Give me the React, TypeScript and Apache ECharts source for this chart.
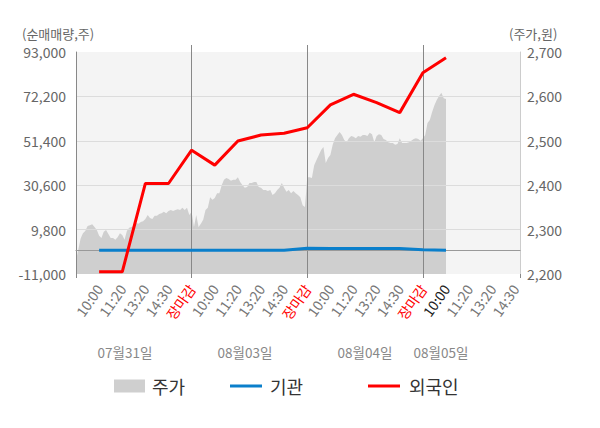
import React, { useEffect, useRef } from 'react';
import * as echarts from 'echarts';

// ---------- data ----------
const dayLabels = ['07월31일', '08월03일', '08월04일', '08월05일'];
const timeLabels = ['10:00', '11:20', '13:20', '14:30', '장마감'];

// 주가 (intraday price, right axis), 50 samples per full day
const priceDay1 = [
  2230, 2255, 2280, 2292, 2297, 2308, 2310, 2312, 2306, 2299,
  2286, 2281, 2295, 2299, 2290, 2281, 2281, 2277, 2283, 2292,
  2288, 2277, 2297, 2304, 2306, 2308, 2315, 2313, 2317, 2319,
  2324, 2333, 2326, 2324, 2331, 2331, 2335, 2337, 2340, 2337,
  2342, 2344, 2342, 2344, 2346, 2344, 2349, 2344, 2349, 2333,
];
const priceDay2 = [
  2340, 2306, 2333, 2306, 2313, 2322, 2344, 2349, 2373, 2367,
  2371, 2382, 2382, 2400, 2412, 2416, 2414, 2410, 2412, 2412,
  2418, 2407, 2400, 2394, 2396, 2405, 2405, 2407, 2407, 2396,
  2394, 2389, 2389, 2387, 2389, 2378, 2382, 2389, 2394, 2405,
  2394, 2385, 2389, 2382, 2387, 2382, 2378, 2373, 2355, 2351,
];
const priceDay3 = [
  2418, 2418, 2416, 2445, 2457, 2468, 2479, 2486, 2450, 2461,
  2468, 2491, 2506, 2513, 2520, 2513, 2502, 2497, 2506, 2511,
  2509, 2506, 2511, 2509, 2513, 2513, 2511, 2518, 2515, 2497,
  2511, 2515, 2513, 2504, 2502, 2497, 2495, 2495, 2491, 2493,
  2506, 2495, 2495, 2495, 2497, 2500, 2504, 2506, 2504, 2500,
];
const priceDay4 = [2506, 2513, 2540, 2547, 2565, 2580, 2592, 2601, 2608, 2596, 2594];

// 순매매량 at each time label (10:00, 11:20, 13:20, 14:30, 장마감 per day)
const foreignNet = [
  -10000, -10000, 31400, 31400, 47000,
  40000, 51300, 54100, 54900, 57500,
  68200, 73200, 69300, 64600, 83300,
  90300,
];
const institutionNet = [
  150, 150, 150, 150, 150,
  150, 150, 150, 150, 1100,
  900, 900, 900, 900, 350,
  100,
];

const leftMin = -11000;
const leftMax = 93000;
const leftStep = 20800;
const rightMin = 2200;
const rightMax = 2700;
const rightStep = 100;

// ---------- layout / style ----------
const FONT = '"Noto Sans CJK KR", "Noto Sans", sans-serif';
const SLOTS_PER_DAY = timeLabels.length;
const POINTS_PER_DAY = 50;
const X_MAX = 19.2;
const DATE_LABEL_X = [125, 245, 365, 441];
const GRID = { left: 76, right: 80, top: 52, bottom: 154 };

const priceDays = [priceDay1, priceDay2, priceDay3, priceDay4];
const priceData = priceDays.flatMap((arr, d) =>
  arr.map((v, i) => [d * SLOTS_PER_DAY + (i * SLOTS_PER_DAY) / POINTS_PER_DAY, v])
);
const foreignData = foreignNet.map((v, i) => [i + 1, v]);
const institutionData = institutionNet.map((v, i) => [i + 1, v]);
const currentSlot = foreignNet.length;

const fmt = (v: number) => v.toLocaleString('en-US');

const legendText = (pad: number) => ({
  fontSize: 18,
  color: '#333',
  fontFamily: FONT,
  padding: [0, 0, 0, pad],
});

export default function App() {
  const ref = useRef<HTMLDivElement>(null);
  useEffect(() => {
    document.body.style.margin = '0';
    const chart = echarts.init(ref.current!, null, { renderer: 'svg' });
    const option: any = {
      animation: false,
      textStyle: { fontFamily: FONT },
      grid: [
        { ...GRID, show: true, backgroundColor: '#f4f4f4', borderWidth: 0 },
        { left: GRID.left, right: GRID.right, top: 45, bottom: GRID.bottom, show: false },
      ],
      xAxis: [
        {
          type: 'value',
          gridIndex: 0,
          min: 0,
          max: X_MAX,
          interval: 1,
          z: 3,
          axisLine: { show: true, lineStyle: { color: '#888' } },
          axisTick: { show: false },
          splitLine: { show: false },
          axisLabel: {
            rotate: 55,
            margin: 12,
            fontSize: 14,
            color: '#777',
            fontFamily: FONT,
            formatter: (v: number) => {
              const k = Math.round(v);
              if (Math.abs(v - k) > 1e-6 || k <= 0) return '';
              const idx = (k - 1) % SLOTS_PER_DAY;
              const t = timeLabels[idx];
              if (idx === SLOTS_PER_DAY - 1) return `{red|${t}}`;
              if (k === currentSlot) return `{cur|${t}}`;
              return t;
            },
            rich: {
              red: { color: '#ff0000', fontSize: 14, fontFamily: FONT },
              cur: { color: '#222', fontSize: 14, fontFamily: FONT },
            },
          },
        },
        {
          type: 'value',
          gridIndex: 1,
          min: 0,
          max: X_MAX,
          interval: SLOTS_PER_DAY,
          z: 3,
          axisLine: { show: false },
          axisLabel: { show: false },
          axisTick: { show: true, length: 4, lineStyle: { color: '#888' } },
          splitLine: {
            show: true,
            showMinLine: false,
            showMaxLine: false,
            lineStyle: { color: '#888', width: 1 },
          },
        },
      ],
      yAxis: [
        {
          type: 'value',
          gridIndex: 0,
          position: 'left',
          min: leftMin,
          max: leftMax,
          interval: leftStep,
          z: 3,
          axisLine: { show: true, lineStyle: { color: '#888' } },
          axisTick: { show: false },
          splitLine: {
            show: true,
            showMinLine: false,
            showMaxLine: false,
            lineStyle: { color: '#dcdcdc' },
          },
          axisLabel: { margin: 10, fontSize: 14, color: '#666', fontFamily: FONT, formatter: fmt },
        },
        {
          type: 'value',
          gridIndex: 0,
          position: 'right',
          min: rightMin,
          max: rightMax,
          interval: rightStep,
          z: 3,
          axisLine: { show: true, lineStyle: { color: '#ccc' } },
          axisTick: { show: false },
          splitLine: { show: false },
          axisLabel: { margin: 7, fontSize: 14, color: '#666', fontFamily: FONT, formatter: fmt },
        },
        { type: 'value', gridIndex: 1, show: false, min: 0, max: 1 },
      ],
      legend: [
        {
          data: ['주가'],
          left: 114,
          top: 377,
          padding: 0,
          icon: 'rect',
          itemWidth: 31,
          itemHeight: 13,
          selectedMode: false,
          textStyle: legendText(2),
        },
        {
          data: ['기관'],
          left: 230,
          top: 377,
          padding: 0,
          icon: 'rect',
          itemWidth: 32,
          itemHeight: 3,
          selectedMode: false,
          textStyle: legendText(3),
        },
        {
          data: ['외국인'],
          left: 368,
          top: 377,
          padding: 0,
          icon: 'rect',
          itemWidth: 32,
          itemHeight: 3,
          selectedMode: false,
          textStyle: legendText(4),
        },
      ],
      graphic: [
        {
          type: 'text',
          x: 22,
          y: 33,
          style: { text: '(순매매량,주)', fill: '#666', fontSize: 13, fontFamily: FONT, verticalAlign: 'middle' },
        },
        {
          type: 'text',
          x: 509,
          y: 33,
          style: { text: '(주가,원)', fill: '#666', fontSize: 13, fontFamily: FONT, verticalAlign: 'middle' },
        },
        ...dayLabels.map((t, i) => ({
          type: 'text',
          x: DATE_LABEL_X[i],
          y: 352,
          style: {
            text: t,
            fill: '#888',
            fontSize: 13.5,
            fontFamily: FONT,
            align: 'center',
            verticalAlign: 'middle',
          },
        })),
      ],
      series: [
        {
          name: '주가',
          type: 'line',
          xAxisIndex: 0,
          yAxisIndex: 1,
          data: priceData,
          symbol: 'none',
          color: '#cfcfcf',
          lineStyle: { width: 0, opacity: 0 },
          areaStyle: { color: '#cfcfcf', opacity: 1, origin: 'start' },
          z: 2,
        },
        {
          name: '기관',
          type: 'line',
          xAxisIndex: 0,
          yAxisIndex: 0,
          data: institutionData,
          symbol: 'none',
          color: '#0a7fcb',
          lineStyle: { color: '#0a7fcb', width: 3 },
          z: 5,
          markLine: {
            silent: true,
            symbol: ['none', 'none'],
            label: { show: false },
            lineStyle: { color: '#999', width: 1, type: 'solid' },
            data: [{ yAxis: 0 }],
          },
        },
        {
          name: '외국인',
          type: 'line',
          xAxisIndex: 0,
          yAxisIndex: 0,
          data: foreignData,
          symbol: 'none',
          color: '#ff0000',
          lineStyle: { color: '#ff0000', width: 3 },
          z: 6,
        },
      ],
    };
    chart.setOption(option);
    return () => chart.dispose();
  }, []);
  return <div ref={ref} style={{ width: 600, height: 428 }} />;
}
